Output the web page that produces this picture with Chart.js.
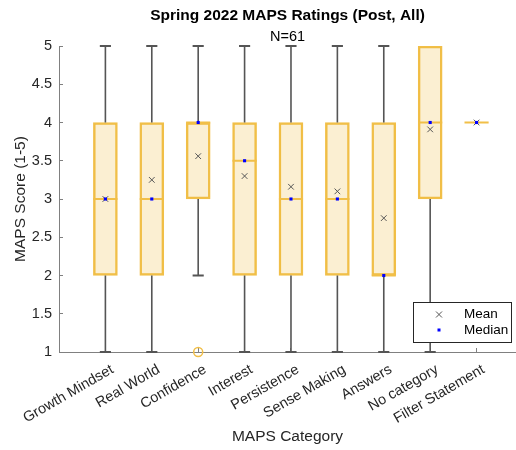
<!DOCTYPE html>
<html><head><meta charset="utf-8">
<script src="https://cdn.jsdelivr.net/npm/chart.js@4/dist/chart.umd.min.js"></script>
<style>html,body{margin:0;padding:0;background:#fff;}#wrap{width:516px;height:450px;position:relative;}</style>
</head><body><div id="wrap"><canvas id="c" width="516" height="450"></canvas></div>
<script>
const categories = ['Growth Mindset','Real World','Confidence','Interest','Persistence','Sense Making','Answers','No category','Filter Statement'];
const whiskerLow  = [1, 1, 2, 1, 1, 1, 1, 1, 4];
const q1          = [2, 2, 3, 2, 2, 2, 2, 3, 4];
const medians     = [3, 3, 4, 3.5, 3, 3, 2, 4, 4];
const q3          = [4, 4, 4, 4, 4, 4, 4, 5, 4];
const whiskerHigh = [5, 5, 5, 5, 5, 5, 5, 5, 4];
const means       = [3.0, 3.25, 3.56, 3.30, 3.16, 3.10, 2.75, 3.91, 4.0];
const outlierCats   = ['Confidence'];
const outlierValues = [1];
const yTicks = [1, 1.5, 2, 2.5, 3, 3.5, 4, 4.5, 5];

const FONT = 'Liberation Sans, Arial, Helvetica, sans-serif';
const TXT = '#262626';
const AXIS = '#808080';
const BOX_EDGE = '#F1BF48';
const BOX_FILL = 'rgba(237,177,32,0.2)';
const WHISK = '#555555';
const BOX_HW = 0.26, CAP_HW = 0.12;

const xs = categories.map((c, i) => i + 1);
const boxData = xs.map((x, i) => ({x, y: [q1[i], q3[i]]}));
const medLine = [];
xs.forEach((x, i) => { medLine.push({x: x - BOX_HW, y: medians[i]}, {x: x + BOX_HW, y: medians[i]}, {x, y: null}); });
const whiskers = [], caps = [];
xs.forEach((x, i) => {
  if (whiskerHigh[i] > q3[i]) {
    whiskers.push({x, y: q3[i]}, {x, y: whiskerHigh[i]}, {x, y: null});
    caps.push({x: x - CAP_HW, y: whiskerHigh[i]}, {x: x + CAP_HW, y: whiskerHigh[i]}, {x, y: null});
  }
  if (whiskerLow[i] < q1[i]) {
    whiskers.push({x, y: q1[i]}, {x, y: whiskerLow[i]}, {x, y: null});
    caps.push({x: x - CAP_HW, y: whiskerLow[i]}, {x: x + CAP_HW, y: whiskerLow[i]}, {x, y: null});
  }
});
const meanPts = xs.map((x, i) => ({x, y: means[i]}));
const medPts = xs.map((x, i) => ({x, y: medians[i]}));
const outPts = outlierCats.map((c, k) => ({x: categories.indexOf(c) + 1, y: outlierValues[k]}));

const legendPlugin = {
  id: 'boxLegend',
  afterDraw(chart) {
    const {ctx, chartArea: a} = chart;
    const w = 98, h = 40;
    const x0 = a.right - 5 - w, y0 = a.bottom - 10 - h;
    ctx.save();
    ctx.fillStyle = '#fff';
    ctx.fillRect(x0, y0, w, h);
    ctx.strokeStyle = TXT; ctx.lineWidth = 1;
    ctx.strokeRect(x0 + 0.5, y0 + 0.5, w, h);
    const mx = x0 + 26;
    const r1 = y0 + 12.5, r2 = y0 + 28;
    ctx.strokeStyle = WHISK; ctx.lineWidth = 1;
    ctx.beginPath();
    ctx.moveTo(mx - 3, r1 - 3); ctx.lineTo(mx + 3, r1 + 3);
    ctx.moveTo(mx + 3, r1 - 3); ctx.lineTo(mx - 3, r1 + 3);
    ctx.stroke();
    ctx.fillStyle = '#0000FF';
    ctx.fillRect(mx - 1.5, r2 - 1.5, 3, 3);
    ctx.fillStyle = '#000';
    ctx.font = '13.5px ' + FONT;
    ctx.textBaseline = 'middle'; ctx.textAlign = 'left';
    ctx.fillText('Mean', x0 + 51, r1);
    ctx.fillText('Median', x0 + 51, r2);
    ctx.restore();
  }
};

new Chart(document.getElementById('c'), {
  type: 'bar',
  data: {
    datasets: [
      {type: 'scatter', label: 'Median', data: medPts, pointStyle: 'rect', radius: 2.2, borderWidth: 0, backgroundColor: '#0000FF', borderColor: '#0000FF'},
      {type: 'scatter', label: 'Mean', data: meanPts, pointStyle: 'crossRot', radius: 4, borderWidth: 1, borderColor: WHISK, backgroundColor: WHISK},
      {type: 'scatter', label: 'Outliers', data: outPts, pointStyle: 'circle', radius: 4.5, borderWidth: 1.5, borderColor: BOX_EDGE, backgroundColor: 'rgba(0,0,0,0)', clip: false},
      {type: 'line', label: 'medline', data: medLine, borderColor: BOX_EDGE, borderWidth: 1.8, pointRadius: 0, spanGaps: false, fill: false, tension: 0},
      {type: 'line', label: 'caps', data: caps, borderColor: WHISK, borderWidth: 2, pointRadius: 0, spanGaps: false, fill: false, tension: 0, clip: false},
      {type: 'line', label: 'whiskers', data: whiskers, borderColor: WHISK, borderWidth: 1.6, pointRadius: 0, spanGaps: false, fill: false, tension: 0},
      {type: 'bar', label: 'box', data: boxData, backgroundColor: BOX_FILL, borderColor: BOX_EDGE, borderWidth: 1.8, borderSkipped: false, barThickness: 24}
    ]
  },
  options: {
    responsive: false, animation: false, devicePixelRatio: 1,
    layout: {autoPadding: false, padding: {left: 0, right: 0, top: 0, bottom: 0}},
    plugins: {
      legend: {display: false}, tooltip: {enabled: false},
      title: {display: true, fullSize: false, text: 'Spring 2022 MAPS Ratings (Post, All)', color: '#000', font: {family: FONT, size: 15.5, weight: 'bold'}, padding: {top: 6, bottom: 2}},
      subtitle: {display: true, fullSize: false, text: 'N=61', color: '#000', font: {family: FONT, size: 14.5}, padding: {top: 2, bottom: 0}}
    },
    scales: {
      x: {
        type: 'linear', min: 0, max: 9.85, offset: false,
        afterBuildTicks: s => { s.ticks = xs.map(v => ({value: v})); },
        afterFit: s => { s.height = 98; s.paddingLeft = 0; s.paddingRight = 0; },
        ticks: {autoSkip: false, minRotation: 30, maxRotation: 30, color: TXT, font: {family: FONT, size: 14.5}, padding: 13, labelOffset: 7,
          callback: v => categories[v - 1]},
        grid: {display: true, offset: false, drawOnChartArea: false, drawTicks: true, tickLength: -4, color: AXIS},
        border: {display: true, color: AXIS, width: 1},
        title: {display: true, text: 'MAPS Category', color: TXT, font: {family: FONT, size: 15.5}, padding: {top: 4, bottom: 4}}
      },
      y: {
        min: 1, max: 5,
        afterBuildTicks: s => { s.ticks = yTicks.map(v => ({value: v})); },
        afterFit: s => { s.width = 59; },
        ticks: {color: TXT, font: {family: FONT, size: 14.5}, padding: 11, callback: v => String(v)},
        grid: {display: true, offset: false, drawOnChartArea: false, drawTicks: true, tickLength: -4, color: AXIS},
        border: {display: true, color: AXIS, width: 1},
        title: {display: true, text: 'MAPS Score (1-5)', color: TXT, font: {family: FONT, size: 15.5}, padding: {top: 11, bottom: 0}}
      }
    }
  },
  plugins: [legendPlugin]
});
</script></body></html>
